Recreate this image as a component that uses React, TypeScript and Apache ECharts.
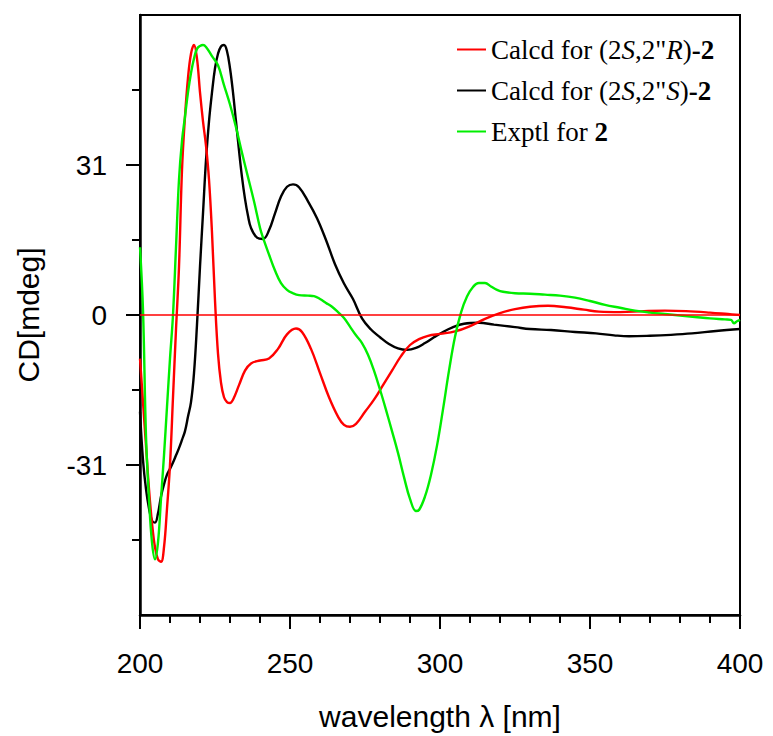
import React, { useEffect, useRef } from "react";
import * as echarts from "echarts";

// ---- data ----
const redX = [200, 201, 202, 203, 204, 205, 206, 207, 208, 209, 210, 211, 212, 213, 214, 215, 216, 217, 218, 219, 220, 221, 222, 223, 224, 225, 226, 227, 228, 229, 230, 231, 233, 235, 237, 240, 243, 246, 249, 252, 254, 257, 260, 263, 266, 268, 270, 272, 275, 278, 281, 284, 287, 290, 293, 296, 300, 305, 310, 315, 320, 325, 330, 336, 342, 348, 353, 360, 368, 375, 382, 390, 396, 400];
const redY = [-9, -18, -27, -36, -43, -48, -50.5, -51, -48, -40, -31, -17, -3, 10, 30, 41, 49, 54, 55.8, 53, 46, 40, 35, 28, 17, 3, -8, -14, -17, -18, -18.2, -17.5, -14.5, -11.5, -10, -9.4, -9, -7, -4, -2.8, -3.5, -7, -12, -17, -21, -22.7, -23.1, -22.5, -20, -17.5, -14.5, -11.5, -8.5, -6.2, -5, -4.3, -3.9, -3.4, -2.3, -0.8, 0.4, 1.2, 1.7, 1.9, 1.6, 1.1, 0.7, 0.6, 0.8, 0.9, 0.8, 0.5, 0.2, 0];

const blackX = [200, 201, 202, 203, 204, 205, 206, 207, 208, 209, 210, 211, 212, 213, 214, 215, 216, 217, 218, 219, 220, 221, 222, 223, 224, 225, 226, 227, 228, 229, 230, 231, 232, 233, 234, 235, 236, 237, 239, 241, 243, 245, 247, 249, 251, 253, 256, 259, 262, 265, 268, 271, 274, 277, 280, 283, 286, 289, 292, 295, 298, 301, 304, 308, 313, 318, 325, 330, 337, 345, 352, 358, 363, 370, 377, 384, 392, 400];
const blackY = [-20, -30, -36, -40, -42.5, -42.9, -41, -37.5, -35, -33, -31.8, -30.5, -29, -27.5, -25.8, -24, -21, -18, -12, -2, 10, 21, 32, 40, 46, 51, 54, 55.5, 55.8, 54.5, 51, 46, 40, 34, 28.5, 24, 20.5, 18, 16, 15.7, 17.5, 21, 24.5, 26.5, 27, 26.4, 23.5, 20, 15.5, 10.5, 6.5, 3.3, -0.7, -3, -4.6, -6, -6.9, -7.2, -6.8, -5.8, -4.6, -3.5, -2.6, -1.8, -1.6, -2, -2.5, -2.9, -3.1, -3.5, -3.8, -4.2, -4.4, -4.3, -4.1, -3.8, -3.3, -2.9];

const greenX = [200, 201, 202, 203, 204, 205, 206, 207, 208, 209, 210, 211, 212, 213, 214, 215, 216, 217, 218, 219, 220, 221, 222, 224, 226, 228, 230, 232, 234, 236, 238, 240, 241, 243, 245, 247, 249, 251, 253, 256, 258, 260, 262, 264, 266, 268, 270, 272, 274, 276, 278, 280, 282, 284, 286, 288, 290, 292, 293, 295, 297, 299, 301, 303, 305, 307, 309, 311, 313, 315, 317, 319, 321, 325, 330, 335, 340, 345, 350, 355, 360, 365, 370, 375, 380, 385, 390, 395, 397, 398, 399, 400];
const greenY = [14, 1, -25, -38, -47, -50.5, -47, -38, -29, -19, -9, 0, 14, 28, 36, 41, 46, 50, 53, 55, 55.6, 55.8, 55.4, 53.5, 51.6, 47.5, 43.5, 38.8, 33.5, 28.5, 23.5, 18, 16, 12.5, 9.2, 6.6, 5.2, 4.5, 4.1, 4, 3.9, 3.3, 2.5, 1.7, 0.6, -0.6, -2.4, -4.2, -5.8, -8.2, -11.5, -15.4, -19.6, -24, -28.5, -33.5, -38, -40.5, -40.3, -37.5, -33, -27, -19.5, -11.5, -4.5, 0.5, 3.8, 5.8, 6.6, 6.6, 5.9, 5.2, 4.8, 4.5, 4.4, 4.2, 4, 3.6, 2.9, 2.1, 1.5, 0.9, 0.5, 0.2, -0.1, -0.4, -0.7, -0.9, -1.0, -1.7, -1.3, -1.0];

const seriesNames = ['Calcd for (2S,2"R)-2', 'Calcd for (2S,2"S)-2', "Exptl for 2"];
const legendRich = [
  '{n|Calcd for (2}{i|S}{n|,2"}{i|R}{n|)}{b|-2}',
  '{n|Calcd for (2}{i|S}{n|,2"}{i|S}{n|)}{b|-2}',
  "{n|Exptl for }{b|2}",
];
const yTicks = [-31, 0, 31];

const zip = (xs: number[], ys: number[]) => xs.map((x, i) => [x, ys[i]]);

export default function App() {
  const ref = useRef<HTMLDivElement>(null);
  useEffect(() => {
    if (!ref.current) return;
    const chart = echarts.init(ref.current, null, { renderer: "svg" });
    const serif = "Liberation Serif";
    const sans = "Liberation Sans";
    const rich = {
      n: { fontFamily: serif, fontSize: 27, color: "#000", lineHeight: 30 },
      i: { fontFamily: serif, fontSize: 27, color: "#000", fontStyle: "italic", lineHeight: 30 },
      b: { fontFamily: serif, fontSize: 27, color: "#000", fontWeight: "bold", lineHeight: 30 },
    };
    chart.setOption({
      animation: false,
      backgroundColor: "#fff",
      grid: { left: 140, right: 33, top: 15, bottom: 121, show: true, borderColor: "#000", borderWidth: 2 },
      legend: {
        orient: "vertical",
        left: 452,
        top: 31,
        itemWidth: 29,
        itemHeight: 2,
        itemGap: 14,
        icon: "rect",
        data: seriesNames,
        formatter: (name: string) => legendRich[seriesNames.indexOf(name)],
        textStyle: { fontFamily: serif, fontSize: 27, color: "#000", rich },
      },
      xAxis: {
        type: "value",
        position: "bottom",
        min: 200,
        max: 400,
        interval: 50,
        name: "wavelength λ [nm]",
        nameLocation: "middle",
        nameGap: 86,
        nameTextStyle: { fontFamily: sans, fontSize: 30, color: "#000" },
        axisLine: { show: true, onZero: false, lineStyle: { color: "#000", width: 2.5 } },
        axisTick: { show: true, inside: false, length: 14, lineStyle: { color: "#000", width: 2 } },
        minorTick: { show: true, splitNumber: 5, length: 8, lineStyle: { color: "#000", width: 2 } },
        splitLine: { show: false },
        axisLabel: { fontFamily: sans, fontSize: 28, color: "#000", margin: 34, inside: false },
      },
      yAxis: {
        type: "value",
        position: "left",
        min: -62,
        max: 62,
        interval: 31,
        name: "CD[mdeg]",
        nameLocation: "middle",
        nameGap: 97,
        nameTextStyle: { fontFamily: sans, fontSize: 30, color: "#000" },
        axisLine: { show: true, onZero: false, lineStyle: { color: "#000", width: 2.5 } },
        axisTick: { show: true, inside: false, length: 14, customValues: yTicks, lineStyle: { color: "#000", width: 2 } },
        minorTick: { show: true, splitNumber: 2, length: 8, lineStyle: { color: "#000", width: 2 } },
        splitLine: { show: false },
        axisLabel: { fontFamily: sans, fontSize: 28, color: "#000", margin: 33, inside: false, customValues: yTicks },
      },
      series: [
        {
          name: seriesNames[0],
          type: "line",
          data: zip(redX, redY),
          smooth: 0.4,
          symbol: "none",
          lineStyle: { color: "#ff0000", width: 2.4 },
          itemStyle: { color: "#ff0000" },
          z: 3,
          markLine: {
            silent: true,
            symbol: ["none", "none"],
            label: { show: false },
            lineStyle: { color: "#ff0000", width: 1.6, type: "solid" },
            data: [{ yAxis: 0 }],
          },
        },
        {
          name: seriesNames[1],
          type: "line",
          data: zip(blackX, blackY),
          smooth: 0.4,
          symbol: "none",
          lineStyle: { color: "#000000", width: 2.4 },
          itemStyle: { color: "#000000" },
          z: 2,
        },
        {
          name: seriesNames[2],
          type: "line",
          data: zip(greenX, greenY),
          smooth: 0.4,
          symbol: "none",
          lineStyle: { color: "#00ee00", width: 2.4 },
          itemStyle: { color: "#00ee00" },
          z: 4,
        },
      ],
    });
    return () => chart.dispose();
  }, []);
  return <div ref={ref} style={{ position: "fixed", left: 0, top: 0, width: 773, height: 736 }} />;
}
